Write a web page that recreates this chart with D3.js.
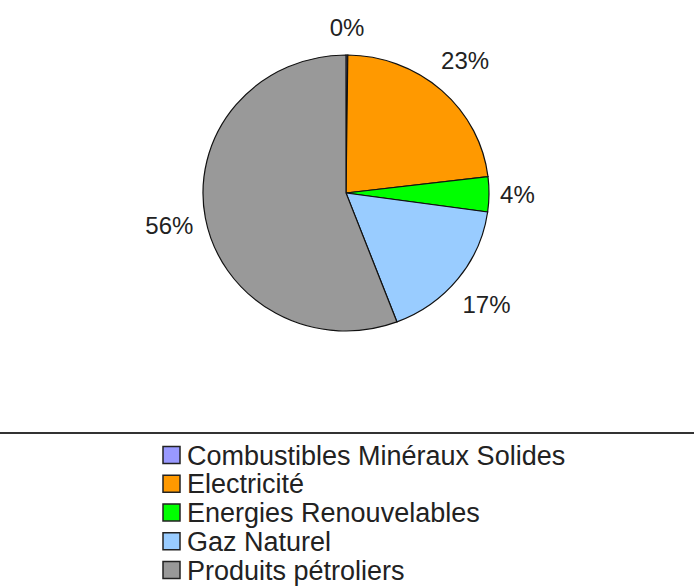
<!DOCTYPE html>
<html>
<head>
<meta charset="utf-8">
<script src="https://cdn.jsdelivr.net/npm/d3@7"></script>
<style>
  html, body { margin: 0; padding: 0; background: #fff; }
  svg { display: block; font-family: "Liberation Sans", Arial, sans-serif; }
  .slice { stroke: #111; stroke-width: 1.2px; vector-effect: non-scaling-stroke; }
  .pct { font-size: 24px; fill: #222; }
  .leg-text { font-size: 27px; fill: #222; }
  .leg-box { stroke: #222; stroke-width: 1.5px; }
</style>
</head>
<body>
<svg id="chart" width="694" height="588"></svg>
<script>
// Energy mix by source (percent)
var categories = ['Combustibles Minéraux Solides', 'Electricité', 'Energies Renouvelables', 'Gaz Naturel', 'Produits pétroliers'];
var shares = [0.2, 22.9, 4.1, 17.0, 55.8];
var colours = ['#9999ff', '#ff9900', '#00ff00', '#99ccff', '#999999'];

var svg = d3.select('#chart');
var W = 694, H = 588;
var cx = 346, cy = 193, R = 143, squash = 0.965; // pie is slightly flattened in the original

var data = categories.map(function (c, i) { return { name: c, value: shares[i], colour: colours[i] }; });
var total = d3.sum(shares);

var pie = d3.pie().value(function (d) { return d.value; }).sort(null);
var arc = d3.arc().innerRadius(0).outerRadius(R);
var arcs = pie(data);

var gPie = svg.append('g').attr('transform', 'translate(' + cx + ',' + cy + ') scale(1,' + squash + ')');
gPie.selectAll('path').data(arcs).join('path')
  .attr('class', 'slice')
  .attr('fill', function (d) { return d.data.colour; })
  .attr('d', arc);

// Percent labels: pushed out along the slice's mid-angle until the text box
// clears a ring just outside the rim
var fmt = d3.format('.0%');
var rLab = 154, halfH = 11;
svg.append('g').selectAll('text').data(arcs).join('text')
  .attr('class', 'pct')
  .attr('text-anchor', 'middle')
  .attr('dy', '0.35em')
  .text(function (d) { return fmt(d.data.value / total); })
  .each(function (d) {
    var a = (d.startAngle + d.endAngle) / 2;
    var s = Math.sin(a), c = Math.cos(a);
    var halfW = this.getComputedTextLength() / 2;
    var dist = rLab + halfW * Math.abs(s) + halfH * Math.abs(c);
    d3.select(this).attr('x', cx + dist * s).attr('y', cy - dist * c);
  });

// Legend (its frame runs wider than the picture, only the top edge shows)
var legTop = 433;
svg.append('line').attr('x1', 0).attr('x2', W).attr('y1', legTop).attr('y2', legTop)
  .attr('stroke', '#333').attr('stroke-width', 2);

var yLeg = d3.scalePoint().domain(categories).range([455, 570]);
var gLeg = svg.append('g');
var items = gLeg.selectAll('g').data(data).join('g')
  .attr('transform', function (d) { return 'translate(163,' + yLeg(d.name) + ')'; });
items.append('rect').attr('class', 'leg-box')
  .attr('x', 0).attr('y', -8.5).attr('width', 17).attr('height', 17)
  .attr('fill', function (d) { return d.colour; });
items.append('text').attr('class', 'leg-text')
  .attr('x', 24).attr('y', 0).attr('dy', '0.36em')
  .text(function (d) { return d.name; });
</script>
</body>
</html>
